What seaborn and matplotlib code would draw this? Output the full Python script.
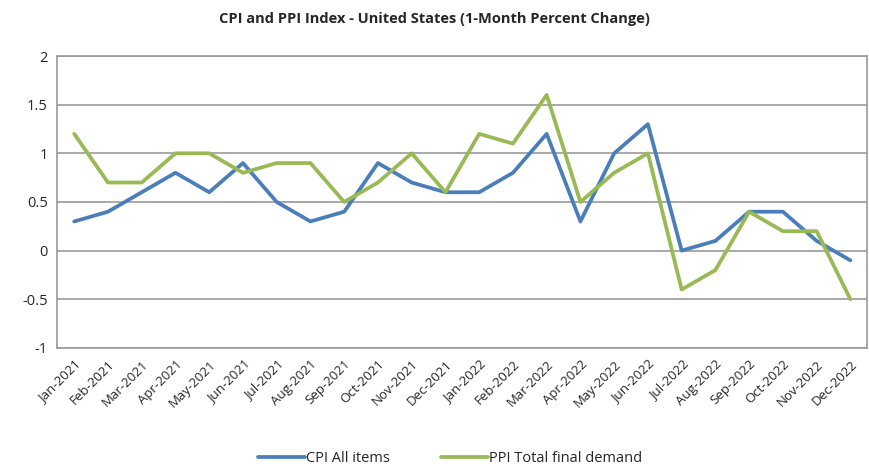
import pandas as pd
import matplotlib.pyplot as plt
import seaborn as sns

# Monatswerte (1-Monats-Veränderung in %)
months = ['Jan-2021', 'Feb-2021', 'Mar-2021', 'Apr-2021', 'May-2021', 'Jun-2021',
          'Jul-2021', 'Aug-2021', 'Sep-2021', 'Oct-2021', 'Nov-2021', 'Dec-2021',
          'Jan-2022', 'Feb-2022', 'Mar-2022', 'Apr-2022', 'May-2022', 'Jun-2022',
          'Jul-2022', 'Aug-2022', 'Sep-2022', 'Oct-2022', 'Nov-2022', 'Dec-2022']
cpi = [0.3, 0.4, 0.6, 0.8, 0.6, 0.9, 0.5, 0.3, 0.4, 0.9, 0.7, 0.6,
       0.6, 0.8, 1.2, 0.3, 1.0, 1.3, 0.0, 0.1, 0.4, 0.4, 0.1, -0.1]
ppi = [1.2, 0.7, 0.7, 1.0, 1.0, 0.8, 0.9, 0.9, 0.5, 0.7, 1.0, 0.6,
       1.2, 1.1, 1.6, 0.5, 0.8, 1.0, -0.4, -0.2, 0.4, 0.2, 0.2, -0.5]

df = pd.DataFrame({'month': months * 2,
                   'value': cpi + ppi,
                   'series': ['CPI All items'] * len(months) + ['PPI Total final demand'] * len(months)})
df['pos'] = list(range(len(months))) * 2

sns.set_style('white')
plt.rcParams['font.family'] = ['Open Sans', 'DejaVu Sans']

fig = plt.figure(figsize=(8.69, 4.67), dpi=100)
ax = fig.add_axes([0.066, 0.255, 0.932, 0.625])

sns.lineplot(data=df, x='pos', y='value', hue='series',
             palette=['#4a7ebb', '#98b954'], linewidth=2.7, ax=ax)

ax.set_xlim(-0.5, len(months) - 0.5)
ax.set_ylim(-1, 2)
ax.set_yticks([-1, -0.5, 0, 0.5, 1, 1.5, 2])
ax.set_yticklabels(['-1', '-0.5', '0', '0.5', '1', '1.5', '2'], fontsize=10.5)
ax.set_xticks(range(len(months)))
ax.set_xticklabels(months, rotation=45, ha='right', rotation_mode='anchor', fontsize=9.5)
ax.tick_params(axis='both', length=0, pad=7)
ax.grid(axis='y', color='#999999', linewidth=1.2)
ax.set_axisbelow(True)
for s in ax.spines.values():
    s.set_color('#999999')
    s.set_linewidth(1.2)
ax.set_xlabel('')
ax.set_ylabel('')

fig.suptitle('CPI and PPI Index - United States (1-Month Percent Change)',
             fontsize=10.5, fontweight='bold', y=0.975)

ax.legend(title=None, loc='lower center', bbox_to_anchor=(0.485, -0.425), ncol=2,
          frameon=False, fontsize=10.5, handlelength=3.2, handletextpad=0.1,
          columnspacing=3.5, borderaxespad=0)

plt.savefig('out.png', dpi=100)
